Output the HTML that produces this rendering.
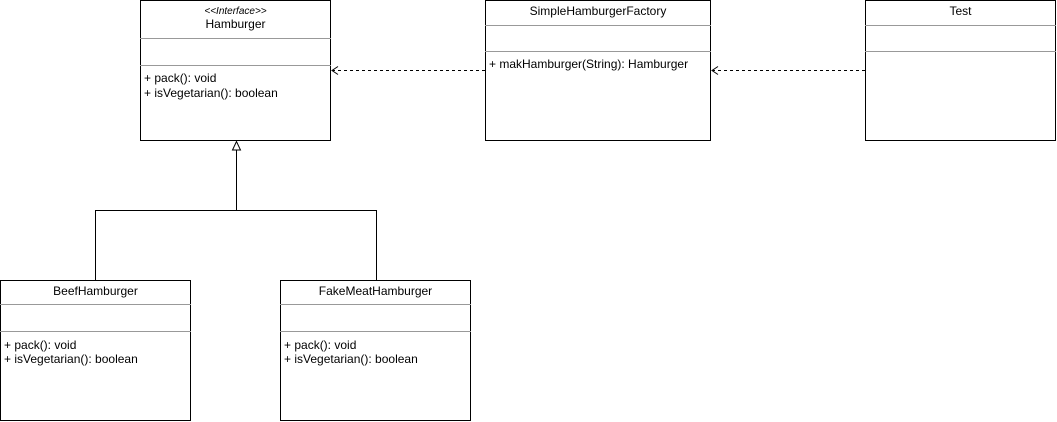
<!DOCTYPE html>
<html><head><meta charset="utf-8"><style>
html,body{margin:0;padding:0;background:#fff;}
svg{display:block;}
text{font-family:"Liberation Sans",Arial,sans-serif;font-size:12px;fill:#000;}
</style></head><body>
<svg width="1057" height="422" viewBox="0 0 1057 422" xmlns="http://www.w3.org/2000/svg">
<g fill="#fff" stroke="#000" stroke-width="1">
<rect x="140.5" y="0.5" width="190" height="140"/>
<rect x="485.5" y="0.5" width="225" height="140"/>
<rect x="865.5" y="0.5" width="190" height="140"/>
<rect x="0.5" y="280.5" width="190" height="140"/>
<rect x="280.5" y="280.5" width="190" height="140"/>
</g>
<g stroke="#999" stroke-width="1">
<line x1="140" y1="38.5" x2="331" y2="38.5"/>
<line x1="140" y1="65.5" x2="331" y2="65.5"/>
<line x1="485" y1="25.5" x2="711" y2="25.5"/>
<line x1="485" y1="51.5" x2="711" y2="51.5"/>
<line x1="865" y1="25.5" x2="1056" y2="25.5"/>
<line x1="865" y1="51.5" x2="1056" y2="51.5"/>
<line x1="0" y1="304.5" x2="191" y2="304.5"/>
<line x1="0" y1="331.5" x2="191" y2="331.5"/>
<line x1="280" y1="304.5" x2="471" y2="304.5"/>
<line x1="280" y1="331.5" x2="471" y2="331.5"/>
</g>
<g stroke="#000" stroke-width="1" fill="none">
<polyline points="95.5,280 95.5,210.5 376.5,210.5 376.5,280"/>
<line x1="236.5" y1="150" x2="236.5" y2="210.5"/>
<polygon points="236.5,141.5 232.5,150 240.5,150" fill="#fff"/>
</g>
<g stroke="#000" stroke-width="1" fill="none">
<line x1="485" y1="70.5" x2="333" y2="70.5" stroke-dasharray="3,3"/>
<polyline points="338,66.5 332,70.5 338,74.5"/>
<line x1="865" y1="70.5" x2="713" y2="70.5" stroke-dasharray="3,3"/>
<polyline points="718,66.5 712,70.5 718,74.5"/>
</g>
<text x="235.5" y="14" text-anchor="middle" font-style="italic" style="font-size:10px">&lt;&lt;Interface&gt;&gt;</text>
<text x="235.5" y="28" text-anchor="middle">Hamburger</text>
<text x="144" y="82">+ pack(): void</text>
<text x="144" y="97">+ isVegetarian(): boolean</text>
<text x="598" y="15" text-anchor="middle">SimpleHamburgerFactory</text>
<text x="489" y="68">+ makHamburger(String): Hamburger</text>
<text x="960.5" y="15" text-anchor="middle">Test</text>
<text x="95.5" y="295" text-anchor="middle">BeefHamburger</text>
<text x="4" y="349">+ pack(): void</text>
<text x="4" y="363">+ isVegetarian(): boolean</text>
<text x="375.5" y="295" text-anchor="middle">FakeMeatHamburger</text>
<text x="284" y="349">+ pack(): void</text>
<text x="284" y="363">+ isVegetarian(): boolean</text>
</svg>
</body></html>
